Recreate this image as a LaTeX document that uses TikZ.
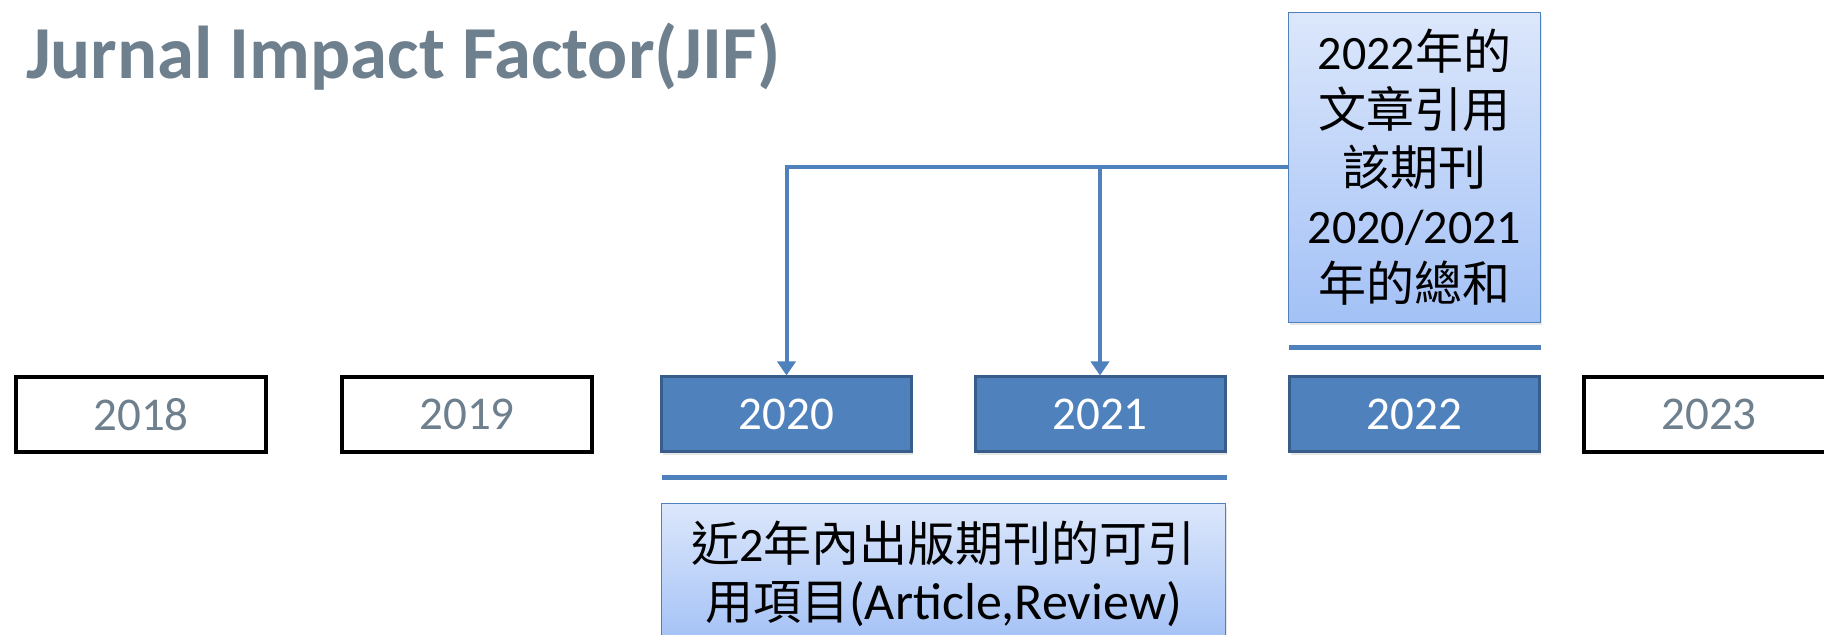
\documentclass[tikz,border=0pt]{standalone}
\usepackage{fontspec}
\setmainfont{Carlito}
\newfontfamily\cjk{Noto Sans CJK TC}
\usepackage{tikz}
\usetikzlibrary{arrows.meta,positioning,calc,shadows}
\definecolor{titlegray}{HTML}{6E7F8D}
\definecolor{officeblue}{HTML}{4F81BD}
\definecolor{officeedge}{HTML}{385D8A}
\definecolor{gradtop}{HTML}{DCE7FB}
\definecolor{gradbot}{HTML}{A3C1F6}

\begin{document}
\begin{tikzpicture}[x=0.5pt,y=-0.5pt,
		yr/.style={rectangle,draw=black,line width=2pt,inner sep=0pt,minimum width=125pt,minimum height=37.5pt,text=titlegray,font=\fontsize{23.5}{28}\selectfont},
		yrsel/.style={yr,fill=officeblue,draw=officeedge,line width=1.5pt,text=white,drop shadow={shadow xshift=0.8pt,shadow yshift=-1.5pt,opacity=0.2}},
		note/.style={rectangle,draw=officeblue,line width=0.6pt,top color=gradtop,bottom color=gradbot,align=center,inner sep=0pt,font=\fontsize{24}{29}\selectfont,drop shadow={shadow xshift=0.8pt,shadow yshift=-1.5pt,opacity=0.2}},
		bar/.style={officeblue,line width=2.8pt},
		conn/.style={officeblue,line width=2pt,-{Triangle[width=9pt,length=7pt]}}]
	\useasboundingbox (0,0) rectangle (1824,635);
	\node (title) [anchor=base west,text=titlegray,font=\bfseries\fontsize{37.4}{44}\selectfont] at (19,79) {Jurnal Impact Factor(JIF)};
	\path 	(141,414.5)  node (y2018) [yr] {2018}
	        (467,414.5)  node (y2019) [yr] {2019}
	        (786.5,414.5) node (y2020) [yrsel] {2020}
	        (1100,414.5) node (y2021) [yrsel] {2021}
	        (1414.5,414.5) node (y2022) [yrsel] {2022}
	        (1709,414.5) node (y2023) [yr] {2023};
	\path 	(1414.5,167.5) node (cite) [note,minimum width=126pt,minimum height=155pt]
	            {2022{\cjk 年的}\\{\cjk 文章引用}\\{\cjk 該期刊}\\2020/2021\\{\cjk 年的總和}}
	        (943.5,574) node (items) [note,minimum width=282pt,minimum height=70.5pt]
	            {{\cjk 近}2{\cjk 年內出版期刊的可引}\\{\cjk 用項目}{\fontsize{26}{29}\selectfont(Article,Review)}};
	% bars under the groups
	\draw [bar] ($(y2020.south west)+(2,24)$) -- ($(y2021.south east)+(0,24)$);
	\draw [bar] ($(y2022.north west)+(1,-28)$) -- ($(y2022.north east)+(0,-28)$);
	\draw [conn] (cite.west) -| (y2020.north);
	\draw [conn] (cite.west -| y2021.north) -- (y2021.north);
\end{tikzpicture}
\end{document}
